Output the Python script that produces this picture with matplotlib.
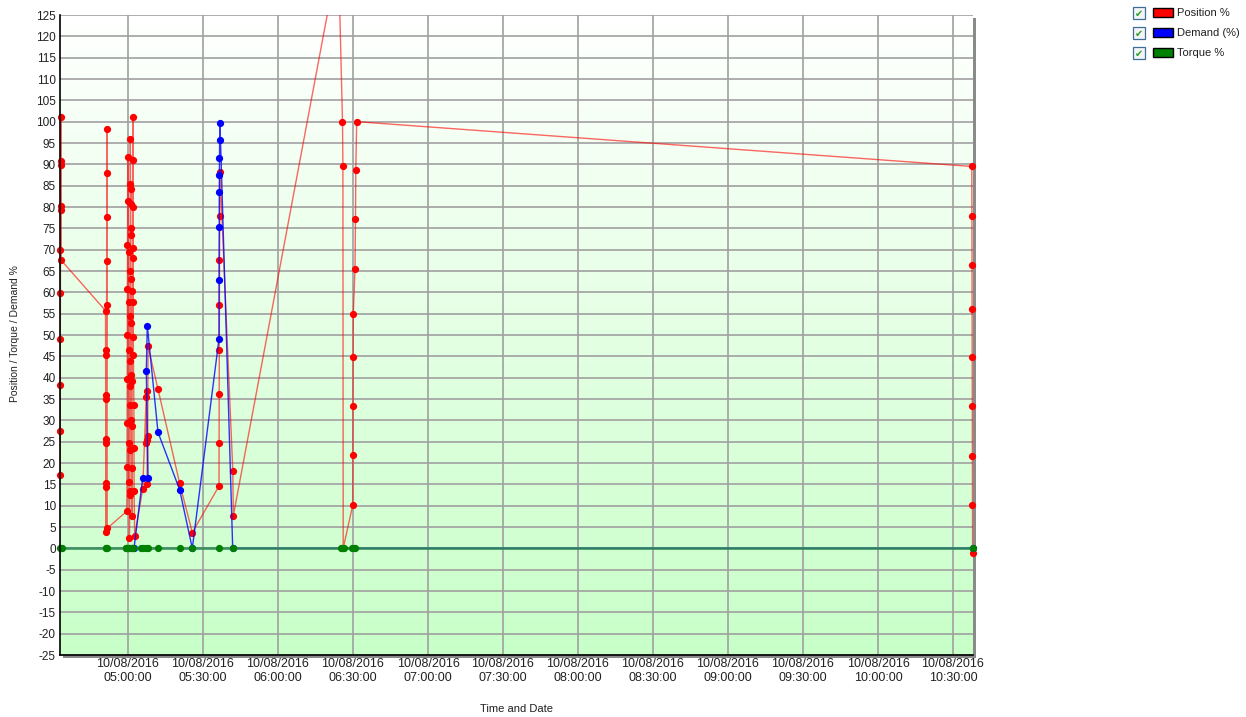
import numpy as np
import pandas as pd
import matplotlib
matplotlib.use("Agg")
import matplotlib.pyplot as plt
import matplotlib.dates as mdates
from matplotlib.patches import Rectangle

plt.rcParams['font.family'] = ['Liberation Sans', 'DejaVu Sans']
plt.rcParams['axes.unicode_minus'] = False

# ---------------- data (minutes after 10/08/2016 05:00:00) ----------------
base_time = "2016-08-10 05:00:00"

position_minutes = [
    -27.2, -27.16, -27.12, -27.08, -27.04, -27.0, -26.96, -26.92, -26.88, -26.84, -26.8, -26.68,
    -9.0, -8.96, -8.92, -8.88, -8.84, -8.8, -8.72, -8.68, -8.64, -8.6, -8.56, -8.54, -8.52, -8.5, -8.48, -8.32,
    -0.48, -0.4, -0.36, -0.32, -0.28, -0.24, -0.2, -0.16, -0.12,
    0.24, 0.28, 0.32, 0.36,
    0.48, 0.56,
    0.72, 0.76, 0.8, 0.8, 0.84, 0.84, 0.88, 0.88, 0.92, 0.92,
    1.04, 1.08, 1.08, 1.12, 1.12, 1.16,
    1.32, 1.36,
    1.56, 1.6, 1.6, 1.64, 1.64,
    1.84, 1.84, 1.88, 1.88, 1.92, 1.92,
    2.12, 2.16,
    2.36, 2.4, 2.44,
    2.68,
    5.88, 7.28, 7.4, 7.6, 7.68, 7.76, 7.88, 8.0, 12.0, 20.68, 25.72,
    36.4, 36.44, 36.48, 36.52, 36.56, 36.6, 36.72, 36.8, 41.92, 42.12,
    84.16, 85.8, 85.96, 86.08,
    89.92, 89.96, 90.0, 90.04, 90.12, 90.8, 91.0, 91.12, 91.48,
    337.52, 337.56, 337.6, 337.64, 337.68, 337.72, 337.76, 337.8, 337.84,
]
position_values = [
    38.2, 27.4, 17.2, 49.0, 59.8, 70.0, 79.3, 89.8, 101.0, 90.8, 80.3, 67.5,
    55.7, 45.3, 35.0, 24.7, 14.3, 3.8, 15.4, 25.6, 36.0, 46.5, 57.0, 67.3, 77.6, 88.0, 98.3, 4.7,
    8.7, 19.1, 29.3, 39.7, 50.1, 60.7, 71.1, 81.4, 91.8,
    69.4, 57.7, 46.6, 15.5,
    24.7, 2.4,
    12.5, 13.4, 23.0, 33.5, 38.0, 43.8, 54.4, 65.0, 85.3, 95.9,
    80.8, 84.2, 75.1, 73.4, 63.2, 40.7,
    52.7, 30.1,
    7.5, 18.8, 28.6, 39.2, 60.2,
    49.6, 68.1, 70.4, 79.9, 91.0, 101.2,
    57.7, 45.4,
    33.7, 23.5, 13.4,
    2.8,
    13.9, 35.5, 24.8, 36.9, 25.4, 15.1, 26.4, 47.4, 37.3, 15.2, 3.7,
    14.6, 24.7, 36.1, 46.5, 57.1, 67.5, 77.8, 88.3, 18.2, 7.6,
    139.0, 100.0, 89.7, 0.0,
    10.2, 21.9, 33.4, 44.8, 55.0, 65.5, 77.2, 88.7, 100.0,
    89.5, 77.9, 66.4, 56.2, 44.8, 33.3, 21.7, 10.1, -1.2,
]

demand_minutes = [2.4, 5.88, 8.0, 7.32, 7.72, 12.0, 20.68, 25.72,
                  36.4, 36.44, 36.48, 36.52, 36.56, 36.6, 36.64, 36.8, 41.88, 337.84]
demand_values = [0.0, 16.5, 16.5, 41.5, 52.2, 27.2, 13.7, 0.0,
                 49.1, 62.8, 75.2, 83.4, 87.5, 91.4, 95.6, 99.7, 0.0, 0.0]

torque_minutes = [-27.2, -26.88, -26.56, -9.0, -8.6, -8.2, -1.0, -0.6, -0.2, 0.2, 0.6, 1.0,
                  1.4, 1.8, 2.2, 5.32, 5.92, 7.2, 8.0, 12.0, 20.68, 25.72, 36.52, 42.0,
                  85.2, 85.8, 86.4, 89.8, 90.4, 91.0, 337.84]
torque_values = [0.0] * len(torque_minutes)

series_names = ["Position %", "Demand (%)", "Torque %"]
series_colors = ["#ff0000", "#0000ff", "#008000"]

y_ticks = list(range(-25, 130, 5))
x_range_minutes = [-27.2, 338.0]


def to_dates(mins):
    t0 = mdates.date2num(pd.Timestamp(base_time))
    return t0 + np.asarray(mins, dtype=float) / 1440.0


# ---------------- figure ----------------
W, H = 1246, 717
fig = plt.figure(figsize=(W / 100, H / 100), dpi=100)
fig.patch.set_facecolor("white")

ax_l, ax_r, ax_t, ax_b = 60, 973, 15, 655
ax = fig.add_axes([ax_l / W, 1 - ax_b / H, (ax_r - ax_l) / W, (ax_b - ax_t) / H])
ax.set_facecolor("none")

# shadow
shadow = Rectangle(((ax_l + 3) / W, 1 - (ax_b + 3) / H), (ax_r - ax_l) / W, (ax_b - ax_t) / H,
                   transform=fig.transFigure, facecolor="#8a8a8a", edgecolor="none", zorder=-2)
fig.patches.append(shadow)
bgcover = Rectangle((ax_l / W, 1 - ax_b / H), (ax_r - ax_l) / W, (ax_b - ax_t) / H,
                    transform=fig.transFigure, facecolor="white", edgecolor="none", zorder=-1)
fig.patches.append(bgcover)

# gradient background
grad = np.linspace(0, 1, 256).reshape(-1, 1)
top_c = np.array([1.0, 1.0, 1.0])
bot_c = np.array([200, 255, 200]) / 255.0
img = top_c[None, None, :] * (1 - grad[:, :, None]) + bot_c[None, None, :] * grad[:, :, None]
ax.imshow(img, extent=[0, 1, 0, 1], transform=ax.transAxes, aspect="auto", zorder=0,
          interpolation="bilinear")

xd_pos = to_dates(position_minutes)
xd_dem = to_dates(demand_minutes)
xd_tor = to_dates(torque_minutes)

ms = 4.2
ax.plot(xd_pos, position_values, color=series_colors[0], lw=1.0, alpha=0.6, zorder=3)
ax.plot(xd_pos, position_values, ls="none", marker="o", ms=ms, color=series_colors[0],
        mec=series_colors[0], zorder=4, clip_on=False)
ax.plot(xd_dem, demand_values, color=series_colors[1], lw=1.0, alpha=0.8, zorder=5)
ax.plot(xd_dem, demand_values, ls="none", marker="o", ms=ms, color=series_colors[1],
        mec=series_colors[1], zorder=6, clip_on=False)
ax.plot(xd_tor, torque_values, color="#2e8b57", lw=2.0, alpha=0.85, zorder=7)
ax.plot(xd_tor, torque_values, ls="none", marker="o", ms=ms, color=series_colors[2],
        mec=series_colors[2], zorder=8, clip_on=False)

ax.set_xlim(to_dates(x_range_minutes))
ax.set_ylim(-25, 125)
ax.set_yticks(y_ticks)
ax.xaxis.set_major_locator(mdates.MinuteLocator(byminute=[0, 30]))
ax.xaxis.set_major_formatter(mdates.DateFormatter("%d/%m/%Y\n%H:%M:%S"))

ax.grid(True, color="#a0a0a0", lw=1.2, zorder=1)
for gl in ax.get_xgridlines() + ax.get_ygridlines():
    gl.set_zorder(1)

ax.tick_params(axis="both", length=0, colors="#202020")
ax.tick_params(axis="y", pad=3, labelsize=8.5)
ax.tick_params(axis="x", pad=2, labelsize=9)
for lbl in ax.get_xticklabels():
    lbl.set_linespacing(1.25)

ax.spines["top"].set_visible(False)
ax.spines["right"].set_visible(False)
ax.spines["left"].set_color("black")
ax.spines["bottom"].set_color("black")
ax.spines["left"].set_linewidth(1.2)
ax.spines["bottom"].set_linewidth(1.2)
for sp in ax.spines.values():
    sp.set_zorder(10)

fig.text(15 / W, 1 - 334 / H, "Position / Torque / Demand %", rotation=90, fontsize=7.5,
         ha="center", va="center", color="#202020")
fig.text(517 / W, 1 - 709 / H, "Time and Date", fontsize=8, ha="center", va="center",
         color="#202020")

# ---------------- legend (checkbox style) ----------------
row_y = [13, 33, 53]
for name, col, yc in zip(series_names, series_colors, row_y):
    cb = Rectangle((1133 / W, 1 - (yc + 6) / H), 12 / W, 12 / H, transform=fig.transFigure,
                   facecolor="#f4f4f4", edgecolor="#3d6e99", lw=0.9)
    fig.patches.append(cb)
    fig.text(1139 / W, 1 - (yc + 0.5) / H, "\u2714", fontsize=7, color="#2aa02a",
             ha="center", va="center", family=["DejaVu Sans"])
    sw = Rectangle((1153 / W, 1 - (yc + 4) / H), 20 / W, 9 / H, transform=fig.transFigure,
                   facecolor=col, edgecolor="black", lw=1.0)
    fig.patches.append(sw)
    fig.text(1177 / W, 1 - yc / H, name, fontsize=8, ha="left", va="center", color="#202020")

fig.savefig("out.png", dpi=100)
